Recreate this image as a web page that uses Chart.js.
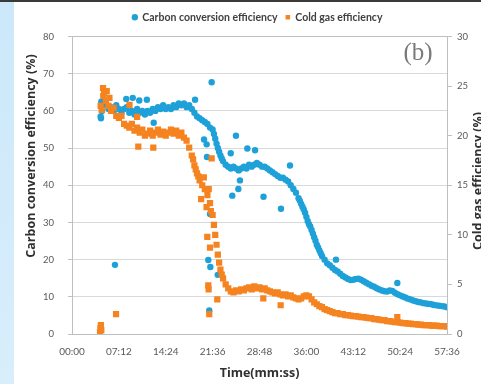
<!DOCTYPE html>
<html>
<head>
<meta charset="utf-8">
<title>Carbon conversion and cold gas efficiency</title>
<script src="https://cdn.jsdelivr.net/npm/chart.js@4.4.0/dist/chart.umd.min.js"></script>
<style>
  body { margin: 0; background: #fff; overflow: hidden; }
  #wrap { position: relative; width: 481px; height: 384px; }
  #myChart { position: absolute; left: 0; top: 0; }
  #topband { position: absolute; left: 0; top: 0; width: 481px; height: 2px; background: #3a3a3a; }
  #sidestrip { position: absolute; left: 0; top: 2px; width: 14px; height: 382px; background: linear-gradient(#cbe8fa, #d8eefb); }
</style>
</head>
<body>
<div id="wrap">
  <canvas id="myChart" width="481" height="384"></canvas>
  <div id="topband"></div>
  <div id="sidestrip"></div>
</div>
<script>
// time in seconds, read along the main trend of both series
var times = [264, 288, 312, 336, 360, 384, 408, 432, 456, 480, 504, 528, 552, 576, 600, 624, 648, 672, 696, 720,
    744, 768, 792, 816, 840, 864, 888, 912, 936, 960, 984, 1008, 1032, 1056, 1080, 1104, 1128, 1152, 1176, 1200,
    1224, 1248, 1272, 1296, 1320, 1344, 1368, 1392, 1416, 1440, 1464, 1488, 1512, 1536, 1560, 1584, 1608, 1632, 1656, 1680,
    1704, 1728, 1752, 1776, 1800, 1824, 1848, 1872, 1896, 1920, 1944, 1968, 1992, 2016, 2040, 2064, 2088, 2112, 2136, 2160,
    2184, 2208, 2232, 2256, 2280, 2304, 2328, 2352, 2376, 2400, 2424, 2448, 2472, 2496, 2520, 2544, 2568, 2592, 2616, 2640,
    2664, 2688, 2712, 2736, 2760, 2784, 2808, 2832, 2856, 2880, 2904, 2928, 2952, 2976, 3000, 3024, 3048, 3072, 3096, 3120,
    3144, 3168, 3192, 3216, 3240, 3264, 3288, 3312, 3336, 3360, 3384, 3408, 3432, 3456];

// carbon conversion efficiency (%), left axis
var carbon = [58.5, 61.5, 62.0, 60.5, 61.0, 60.0, 61.5, 60.5, 59.5, 60.5, 61.0, 59.5, 60.0, 59.0, 60.5, 59.5, 60.0, 59.0, 60.0, 59.5,
    60.5, 60.0, 61.0, 60.5, 61.5, 60.5, 61.0, 60.5, 61.5, 61.0, 62.0, 61.5, 62.0, 61.0, 61.5, 60.5, 59.5, 58.5, 58.0, 57.5,
    57.0, 56.5, 55.5, 55.0, 52.5, 50.0, 48.0, 46.5, 45.5, 45.0, 44.5, 45.0, 44.5, 44.0, 44.5, 45.0, 44.5, 45.5, 45.0, 45.5,
    46.0, 45.5, 45.0, 45.0, 44.5, 44.0, 43.5, 43.0, 42.5, 42.0, 42.0, 41.5, 41.0, 40.0, 39.0, 38.0, 36.5, 35.0, 33.5, 31.5,
    29.5, 28.0, 26.0, 24.0, 22.5, 21.0, 20.0, 19.0, 18.5, 17.8, 17.2, 16.8, 16.2, 15.6, 15.2, 14.8, 14.5, 14.6, 14.8, 14.9,
    14.6, 14.2, 13.8, 13.4, 13.0, 12.7, 12.3, 12.0, 11.7, 11.5, 11.4, 11.7, 11.6, 11.1, 10.7, 10.4, 10.1, 9.8, 9.5, 9.3,
    9.0, 8.8, 8.6, 8.5, 8.3, 8.2, 8.1, 8.0, 7.8, 7.7, 7.6, 7.5, 7.4, 7.2];

// cold gas efficiency (%), right axis
var coldGas = [23.0, 24.0, 23.5, 23.0, 22.5, 22.8, 22.0, 21.8, 22.0, 21.2, 21.0, 20.8, 21.2, 20.5, 20.8, 20.3, 20.6, 20.0, 20.2, 20.5,
    20.0, 20.3, 20.6, 20.1, 20.4, 20.0, 20.3, 20.6, 20.2, 20.5, 20.0, 20.3, 19.8, 19.5, 18.8, 18.0, 17.0, 16.2, 15.5, 15.0,
    14.6, 14.0, 13.2, 12.0, 10.0, 8.0, 6.5, 5.6, 5.0, 4.6, 4.3, 4.2, 4.4, 4.3, 4.5, 4.4, 4.6, 4.7, 4.5, 4.8,
    4.6, 4.7, 4.5, 4.6, 4.4, 4.3, 4.2, 4.1, 4.2, 4.0, 3.9, 4.0, 3.8, 3.9, 3.7, 3.6, 3.5, 3.6, 3.8, 3.9,
    3.8, 3.5, 3.2, 3.0, 2.8, 2.7, 2.5, 2.4, 2.3, 2.2, 2.1, 2.1, 2.0, 2.0, 1.9, 1.9, 1.85, 1.8, 1.8, 1.75,
    1.7, 1.7, 1.65, 1.6, 1.6, 1.5, 1.5, 1.45, 1.4, 1.4, 1.3, 1.3, 1.25, 1.2, 1.2, 1.15, 1.1, 1.1, 1.05, 1.05,
    1.0, 1.0, 0.95, 0.95, 0.9, 0.9, 0.9, 0.85, 0.85, 0.85, 0.8, 0.8, 0.8, 0.75];

// scattered readings off the main trend
var carbonExtraTimes = [267, 270, 276, 396, 500, 560, 620, 690, 753, 1134, 1217, 1241, 1244, 1256, 1265, 1272, 1275, 1287,
    1308, 1332, 1343, 1356, 1380, 1463, 1477, 1511, 1533, 1548, 1616, 1687, 1765, 1926, 2009,
    2100, 2124, 2148, 2172, 2196, 2220, 2244, 2268, 2292, 2433, 2998];
var carbonExtra = [58.0, 62.5, 60.0, 18.6, 63.2, 63.5, 62.8, 63.0, 56.8, 63.0, 52.3, 51.0, 47.6, 19.9, 6.3, 32.3, 18.0, 67.7,
    53.8, 51.2, 15.9, 49.0, 47.2, 48.6, 37.2, 53.3, 39.0, 41.3, 49.9, 49.4, 36.9, 33.7, 45.3,
    35.8, 34.2, 32.6, 30.4, 28.9, 27.0, 25.1, 23.3, 21.7, 20.0, 13.7];

var coldExtraTimes = [258, 262, 266, 270, 274, 286, 296, 320, 345, 406, 530, 600, 611, 749, 1116, 1140, 1164, 1190,
    1215, 1240, 1247, 1256, 1259, 1260, 1265, 1272, 1280, 1287, 1308, 1332, 1339, 1356, 1380, 1763, 1923, 2998];
var coldExtra = [0.2, 0.6, 0.9, 0.4, 22.6, 24.8, 24.3, 24.5, 23.8, 2.0, 23.1, 21.9, 18.9, 18.8, 17.6, 16.6, 15.9, 13.6,
    15.8, 12.8, 9.8, 4.9, 4.5, 14.6, 2.0, 8.7, 12.4, 17.7, 11.0, 9.0, 3.5, 7.2, 6.0, 3.6, 2.9, 1.7];

var seriesNames = ["Carbon conversion efficiency", "Cold gas efficiency"];
var leftTitle = "Carbon conversion efficiency (%)";
var rightTitle = "Cold gas efficiency (%)";
var xTitle = "Time(mm:ss)";

var titleFont = "bold 12.5px 'Open Sans'";

function toPoints(xs, ys) {
    return xs.map(function (t, i) { return { x: t, y: ys[i] }; });
}

function mmss(value) {
    var m = Math.floor(value / 60);
    var s = Math.round(value % 60);
    return (m < 10 ? "0" : "") + m + ":" + (s < 10 ? "0" : "") + s;
}

function rotatedText(ctx, text, x, y) {
    ctx.save();
    ctx.fillStyle = "#303030";
    ctx.font = titleFont;
    ctx.textAlign = "center";
    ctx.textBaseline = "middle";
    ctx.translate(x, y);
    ctx.rotate(-Math.PI / 2);
    ctx.fillText(text, 0, 0);
    ctx.restore();
}

// y titles and the panel letter are drawn by hand (right title reads bottom to top and is cut by the edge)
var extraText = {
    id: "extraText",
    beforeInit: function (chart) {
        var fit = chart.legend.fit;
        chart.legend.fit = function () {
            fit.call(chart.legend);
            this.height += 4;
        };
    },
    afterDraw: function (chart) {
        var ctx = chart.ctx;
        rotatedText(ctx, leftTitle, 31, 156);
        rotatedText(ctx, rightTitle, 478, 181);

        ctx.save();
        ctx.fillStyle = "#7a7a7a";
        ctx.font = "25px 'Liberation Serif'";
        ctx.textAlign = "center";
        ctx.textBaseline = "alphabetic";
        ctx.fillText("(b)", 418, 60);
        ctx.restore();
    }
};

function drawChart() {
    var ctx = document.getElementById("myChart").getContext("2d");
    var myChart = new Chart(ctx, {
        type: "scatter",
        data: {
            datasets: [
                {
                    label: seriesNames[0],
                    data: toPoints(times, carbon).concat(toPoints(carbonExtraTimes, carbonExtra)),
                    yAxisID: "y",
                    pointStyle: "circle",
                    pointRadius: 3.2,
                    backgroundColor: "#1ea1d9",
                    borderWidth: 0,
                    order: 2,
                },
                {
                    label: seriesNames[1],
                    data: toPoints(times, coldGas).concat(toPoints(coldExtraTimes, coldExtra)),
                    yAxisID: "y2",
                    pointStyle: "rect",
                    pointRadius: 4.4,
                    backgroundColor: "#f5831f",
                    borderWidth: 0,
                    order: 1,
                },
            ],
        },
        options: {
            responsive: false,
            animation: false,
            devicePixelRatio: 1,
            layout: { padding: { top: 4, left: 34, right: 0, bottom: 0 } },
            plugins: {
                legend: {
                    position: "top",
                    labels: {
                        usePointStyle: true,
                        boxWidth: 4.5,
                        boxHeight: 4.5,
                        padding: 8,
                        color: "#404040",
                        font: { family: "Lato", size: 10.5, weight: "bold" },
                        sort: function (a, b) { return a.datasetIndex - b.datasetIndex; },
                    },
                },
                tooltip: { enabled: false },
            },
            scales: {
                x: {
                    type: "linear",
                    min: 0,
                    max: 3456,
                    afterFit: function (scale) { scale.height = 50; },
                    ticks: {
                        stepSize: 432,
                        maxRotation: 0,
                        padding: 12,
                        color: "#595959",
                        font: { family: "Lato", size: 10 },
                        callback: function (value) { return mmss(value); },
                    },
                    grid: { display: false, drawTicks: false },
                    border: { display: true, color: "#bfbfbf" },
                    title: {
                        display: true,
                        text: xTitle,
                        color: "#303030",
                        font: { family: "Open Sans", size: 12.5, weight: "bold" },
                        padding: { top: 0, bottom: 3.5 },
                    },
                },
                y: {
                    position: "left",
                    min: 0,
                    max: 80,
                    afterFit: function (scale) { scale.width = 38; },
                    ticks: {
                        stepSize: 10,
                        padding: 14,
                        color: "#595959",
                        font: { family: "Lato", size: 9.5 },
                    },
                    grid: {
                        color: function (c) { return c.tick && c.tick.value === 80 ? "#bfbfbf" : "#d9d9d9"; },
                        tickLength: 4,
                        tickColor: "#bfbfbf",
                    },
                    border: { display: true, color: "#bfbfbf" },
                },
                y2: {
                    position: "right",
                    min: 0,
                    max: 30,
                    afterFit: function (scale) { scale.width = 34; },
                    ticks: {
                        stepSize: 5,
                        padding: 5,
                        color: "#595959",
                        font: { family: "Lato", size: 9.5 },
                    },
                    grid: { drawOnChartArea: false, tickLength: 5, color: "#bfbfbf" },
                    border: { display: true, color: "#bfbfbf" },
                },
            },
        },
        plugins: [extraText],
    });
}

window.onload = function () {
    drawChart();
};
</script>
</body>
</html>
